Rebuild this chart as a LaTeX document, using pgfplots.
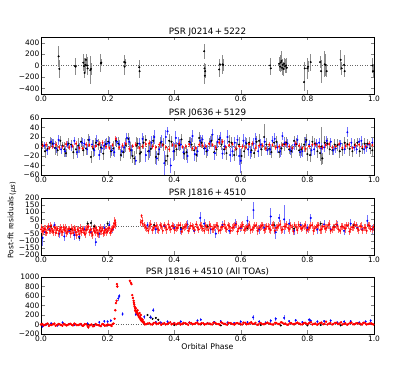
\documentclass[border=0pt]{standalone}
\usepackage{pgfplots}
\pgfplotsset{compat=1.18}
\usepackage{pgfplotstable}
\usepackage{fontspec}
\setmainfont{DejaVu Sans}

% J0214+5222 : phase, residual, error
\pgfplotstableread{
x y e
0.053 160 190
0.055 -60 160
0.102 -10 150
0.104 -20 120
0.127 50 150
0.129 -10 140
0.131 -130 90
0.133 10 120
0.135 100 100
0.138 0 150
0.140 -50 120
0.148 -80 250
0.150 -60 100
0.180 40 160
0.181 50 60
0.250 60 120
0.251 -20 150
0.253 50 60
0.295 -30 120
0.296 -100 120
0.490 250 130
0.491 -50 100
0.492 -180 150
0.493 -100 120
0.535 -70 130
0.537 20 100
0.545 20 170
0.547 10 100
0.688 0 130
0.690 -50 120
0.715 30 120
0.718 -20 100
0.720 50 140
0.722 80 170
0.724 -40 120
0.726 10 100
0.728 -60 120
0.730 30 110
0.733 -10 120
0.736 0 140
0.738 -40 100
0.790 -290 150
0.792 -50 120
0.800 -50 180
0.802 -20 100
0.810 60 150
0.838 60 100
0.841 -100 200
0.852 20 230
0.855 10 200
0.858 -100 100
0.900 100 180
0.903 -50 120
0.910 10 170
0.912 -100 100
0.995 0 140
0.997 -100 120
}\pzero

% J0636+5129
\pgfplotstableread{
x y e
0.005 3 8
0.012 -10 14
0.02 -5 10
0.027 8 12
0.035 6 9
0.042 -3 15
0.05 -8 12
0.058 12 10
0.065 2 8
0.070 -6 16
0.075 -14 8
0.083 6 12
0.09 4 10
0.097 -12 14
0.105 -6 12
0.112 2 15
0.12 10 9
0.127 -8 12
0.135 -4 14
0.142 14 12
0.15 -22 12
0.157 -5 18
0.165 8 10
0.172 4 12
0.18 -2 12
0.187 -15 14
0.195 5 10
0.202 10 12
0.21 -10 14
0.217 -4 16
0.225 12 10
0.232 6 14
0.24 -18 12
0.247 -12 12
0.255 3 15
0.262 16 12
0.27 -8 18
0.275 -20 15
0.28 -25 15
0.287 2 18
0.29 6 12
0.297 -15 20
0.30 -12 20
0.308 8 14
0.315 14 10
0.322 -10 18
0.33 -5 16
0.337 12 12
0.345 -22 14
0.352 -16 15
0.36 8 12
0.367 4 14
0.375 -30 12
0.380 -20 18
0.385 12 14
0.392 10 12
0.40 -10 18
0.407 -6 15
0.415 3 12
0.422 15 12
0.43 -15 14
0.437 -12 16
0.445 10 10
0.452 4 14
0.46 -8 15
0.467 -18 14
0.475 18 12
0.482 8 12
0.49 -4 14
0.497 -10 14
0.505 6 12
0.512 12 14
0.52 -12 16
0.527 -6 15
0.535 15 10
0.542 4 12
0.55 -6 12
0.557 -14 14
0.565 10 14
0.572 8 12
0.58 -18 12
0.587 -5 15
0.595 4 15
0.602 -20 16
0.61 -10 14
0.617 6 12
0.625 8 12
0.632 -8 15
0.64 -14 10
0.647 10 12
0.655 12 15
0.662 -6 14
0.67 20 28
0.677 4 14
0.685 -5 12
0.692 -12 12
0.70 8 10
0.707 10 12
0.715 -12 12
0.722 -4 14
0.73 5 14
0.737 8 12
0.745 -6 10
0.752 -10 14
0.76 12 10
0.767 5 12
0.775 -8 12
0.782 -6 14
0.79 4 15
0.797 14 12
0.80 -16 14
0.808 -18 15
0.815 10 12
0.822 6 12
0.83 -10 15
0.838 -14 16
0.842 0 40
0.845 -25 12
0.852 8 14
0.86 6 12
0.867 -6 12
0.875 -8 10
0.882 4 12
0.89 3 12
0.897 -10 14
0.905 -6 14
0.912 8 12
0.92 5 10
0.927 -5 14
0.935 -10 12
0.942 3 12
0.95 8 10
0.957 -10 12
0.965 -4 12
0.972 6 12
0.98 6 10
0.988 -4 12
0.995 -8 12
}\poneblack
\pgfplotstableread{
x y e
0.01 2 8
0.018 -8 10
0.03 10 8
0.038 6 10
0.045 -4 10
0.053 14 10
0.06 -6 10
0.072 -10 12
0.08 4 8
0.092 0 10
0.10 12 8
0.108 -12 12
0.115 -3 10
0.123 8 10
0.13 6 10
0.138 -6 12
0.145 14 8
0.153 4 10
0.16 -8 12
0.168 12 12
0.175 -18 10
0.183 -4 10
0.19 2 10
0.198 6 12
0.205 8 12
0.213 -8 12
0.22 -12 10
0.228 10 10
0.235 4 10
0.243 -10 12
0.25 -2 12
0.258 18 10
0.265 10 10
0.272 -8 12
0.285 -30 10
0.295 6 12
0.305 16 12
0.315 -18 14
0.325 -10 14
0.332 8 14
0.34 20 14
0.348 -25 15
0.355 -6 12
0.362 10 14
0.37 -35 25
0.375 20 14
0.38 32 8
0.39 -40 15
0.398 -10 20
0.405 18 14
0.412 6 14
0.42 4 12
0.428 -12 14
0.44 -20 14
0.448 8 12
0.455 22 12
0.462 -16 14
0.47 -10 12
0.478 12 12
0.485 15 10
0.492 -4 14
0.50 -8 12
0.508 10 12
0.515 25 12
0.522 -14 14
0.53 10 14
0.538 18 12
0.545 -15 12
0.552 0 14
0.56 20 14
0.568 -18 14
0.575 -10 12
0.582 8 12
0.59 14 10
0.595 -20 18
0.60 -30 25
0.608 12 14
0.615 8 12
0.622 -6 14
0.63 -12 14
0.638 6 12
0.645 16 12
0.652 -10 12
0.66 4 12
0.672 10 12
0.68 -8 10
0.688 -6 12
0.695 12 10
0.702 16 12
0.71 -2 12
0.718 -10 12
0.725 22 8
0.732 8 10
0.74 6 10
0.748 -8 10
0.755 -4 10
0.762 4 12
0.77 14 10
0.778 -12 12
0.785 -10 12
0.795 10 10
0.805 4 10
0.812 -8 12
0.82 -6 12
0.828 6 10
0.835 8 10
0.842 -4 12
0.85 -2 10
0.858 12 10
0.87 10 8
0.878 -8 10
0.885 -4 10
0.895 4 10
0.90 6 8
0.912 -6 10
0.92 30 10
0.932 8 10
0.94 -2 8
0.948 -6 10
0.955 10 8
0.962 12 10
0.97 -6 10
0.978 -2 10
0.985 4 8
0.995 8 10
}\poneblue
\pgfplotstableread{
x y e
0.005 2 5
0.015 4 5
0.025 -3 5
0.035 0 5
0.045 4 6
0.055 -2 5
0.065 0 5
0.075 5 6
0.085 -2 5
0.095 1 5
0.105 6 5
0.115 -3 5
0.125 -4 6
0.135 4 6
0.145 3 5
0.155 -1 5
0.165 1 5
0.175 6 5
0.185 8 6
0.195 0 6
0.205 -3 5
0.215 3 5
0.225 16 6
0.235 -2 5
0.245 2 5
0.255 6 6
0.265 -5 6
0.275 1 5
0.285 4 5
0.295 -3 5
0.305 0 5
0.315 5 6
0.325 7 6
0.335 0 5
0.345 -2 5
0.355 4 5
0.365 3 5
0.375 -2 6
0.385 -6 6
0.395 3 5
0.405 1 5
0.415 6 5
0.425 -1 5
0.435 0 6
0.445 5 6
0.455 -4 5
0.465 -3 5
0.475 4 5
0.485 2 5
0.495 0 6
0.505 6 6
0.515 3 5
0.525 -2 5
0.535 8 5
0.545 10 5
0.555 -2 6
0.565 3 5
0.575 5 5
0.585 -4 6
0.595 1 5
0.605 0 5
0.615 -2 6
0.625 5 5
0.635 6 5
0.645 -3 6
0.655 2 5
0.665 2 5
0.675 -4 6
0.685 4 5
0.695 3 5
0.705 -2 6
0.715 0 5
0.725 3 5
0.735 5 6
0.745 0 5
0.755 -3 5
0.765 6 6
0.775 2 5
0.785 -3 5
0.795 -5 6
0.805 1 5
0.815 4 5
0.825 4 6
0.835 0 5
0.845 -2 5
0.855 3 6
0.865 5 5
0.875 -2 5
0.885 0 6
0.895 5 5
0.905 -3 5
0.915 1 6
0.925 4 5
0.935 -3 5
0.945 2 6
0.955 4 5
0.965 -1 5
0.975 0 6
0.985 6 5
0.995 3 5
}\ponered

% J1816+4510 (eclipse removed)
\pgfplotstableread{
x y e
0.000 -20 25
0.0025 -5 25
0.005 -35 30
0.0075 -30 25
0.010 -15 25
0.0125 -20 30
0.015 -40 25
0.0175 -45 25
0.020 -10 20
0.0225 0 25
0.025 -25 30
0.0275 -30 25
0.030 5 25
0.0325 -15 30
0.035 -30 20
0.0375 -40 25
0.040 -5 25
0.0425 -10 25
0.045 -45 25
0.0475 -25 30
0.050 -15 20
0.0525 -50 25
0.055 -30 30
0.0575 -20 25
0.060 -8 25
0.0625 -35 30
0.065 -40 25
0.0675 -5 25
0.070 -20 20
0.0725 -30 25
0.075 -10 25
0.0775 -45 30
0.080 -35 25
0.0825 -20 25
0.085 -15 20
0.0875 -35 25
0.090 -50 30
0.0925 -15 30
0.095 -25 25
0.0975 -45 25
0.100 -10 20
0.1025 -25 25
0.105 -40 25
0.1075 -60 30
0.110 -20 25
0.1125 -30 25
0.115 -55 30
0.1175 -10 25
0.120 -30 25
0.1225 -40 30
0.125 -15 20
0.1275 -25 25
0.130 -45 25
0.1325 -55 25
0.135 -25 25
0.1375 -20 30
0.140 -5 30
0.1425 0 25
0.145 -40 25
0.1475 -30 25
0.150 -20 25
0.1525 -45 30
0.155 -60 30
0.1575 -15 25
0.160 -30 25
0.1625 -40 25
0.165 -10 20
0.1675 -25 30
0.170 -45 30
0.1725 -55 25
0.175 -25 25
0.1775 -10 25
0.180 -35 25
0.1825 -30 30
0.185 -15 20
0.1875 -50 25
0.190 -40 30
0.1925 -25 25
0.195 -20 25
0.1975 -40 30
0.200 -30 25
0.2025 -15 25
0.205 -10 20
0.2075 -45 25
0.210 -35 25
0.2125 -25 30
0.215 -15 25
0.2175 -5 25
0.218 0 30
0.220 20 30
0.222 40 30
0.2235 25 30
0.224 10 25
0.300 30 25
0.302 75 15
0.304 40 25
0.305 20 25
0.310 10 25
0.314 -5 25
0.318 -15 25
0.322 -30 25
0.326 5 30
0.330 15 30
0.334 -25 25
0.338 -10 25
0.342 0 25
0.346 5 25
0.350 -15 30
0.354 -25 30
0.358 10 25
0.362 0 25
0.366 -30 25
0.370 10 25
0.374 -5 25
0.378 -20 30
0.382 15 30
0.386 -5 25
0.390 -20 25
0.394 5 25
0.398 0 25
0.402 -25 30
0.406 -10 30
0.410 -10 25
0.414 8 25
0.418 10 25
0.422 -35 25
0.426 -15 30
0.430 -5 25
0.434 0 25
0.438 12 30
0.442 -30 25
0.446 -15 25
0.450 5 25
0.454 3 25
0.458 -10 30
0.462 -25 30
0.466 15 25
0.470 -8 25
0.474 -20 25
0.478 10 25
0.482 0 30
0.486 -15 25
0.490 -30 25
0.494 5 30
0.498 -5 25
0.502 -25 25
0.506 10 30
0.510 0 25
0.514 -20 25
0.518 -15 30
0.522 -5 25
0.526 10 25
0.530 5 30
0.534 -30 25
0.538 -25 25
0.542 -5 25
0.546 0 25
0.550 15 30
0.554 -10 30
0.558 -20 25
0.562 10 25
0.566 0 25
0.570 -30 25
0.574 -10 30
0.578 -5 30
0.582 8 25
0.586 15 25
0.590 -35 25
0.594 -15 25
0.598 -5 25
0.602 0 30
0.606 12 30
0.610 -25 25
0.614 -15 25
0.618 -5 25
0.622 3 25
0.626 10 30
0.630 -25 30
0.634 -20 25
0.638 -8 25
0.642 5 25
0.646 10 25
0.650 -30 30
0.654 -15 25
0.658 -5 25
0.662 5 30
0.666 10 25
0.670 -25 25
0.674 -15 30
0.678 0 25
0.682 0 25
0.686 -15 30
0.690 -25 25
0.694 10 25
0.698 10 30
0.702 -30 25
0.706 -10 25
0.710 -5 25
0.714 5 25
0.718 15 30
0.722 -25 30
0.726 -20 25
0.730 0 25
0.734 0 25
0.738 15 25
0.742 -10 30
0.746 -20 30
0.750 8 25
0.754 -5 25
0.758 -35 25
0.762 10 25
0.766 -5 25
0.770 -25 30
0.774 12 30
0.778 0 25
0.782 -15 25
0.786 -10 25
0.790 3 25
0.794 10 30
0.798 -25 30
0.802 -20 25
0.806 -8 25
0.810 5 25
0.814 10 25
0.818 -30 30
0.822 -15 25
0.826 -5 25
0.830 5 30
0.834 10 25
0.838 -25 25
0.842 -20 30
0.846 0 25
0.850 0 25
0.854 -15 30
0.858 -10 25
0.862 10 25
0.866 15 30
0.870 -30 25
0.874 -20 25
0.878 -5 25
0.882 -5 25
0.886 15 30
0.890 5 30
0.894 -20 25
0.898 -30 25
0.902 0 25
0.906 0 25
0.910 -10 30
0.914 -15 30
0.918 8 25
0.922 10 25
0.926 -35 25
0.930 -20 25
0.934 -5 25
0.938 -5 30
0.942 12 30
0.946 10 25
0.950 -15 25
0.954 -25 25
0.958 3 25
0.962 0 30
0.966 -25 30
0.970 -10 25
0.974 -8 25
0.978 -30 25
0.982 10 25
0.986 5 30
0.990 -15 25
0.994 -20 25
0.998 -5 25
}\ptwored
\pgfplotstableread{
x y e
0.005 -80 60
0.012 -40 30
0.025 -20 30
0.040 10 25
0.055 -50 30
0.070 -70 30
0.085 -30 25
0.100 -60 35
0.115 -70 30
0.130 -20 25
0.150 -40 30
0.165 -110 30
0.175 -50 30
0.190 -10 25
0.205 10 30
0.215 -20 25
0.320 10 25
0.345 -20 30
0.370 5 25
0.400 -10 30
0.420 -20 30
0.440 15 30
0.460 -30 25
0.478 60 40
0.490 20 30
0.510 -20 30
0.525 -50 30
0.545 10 30
0.565 -30 25
0.585 20 30
0.600 -10 30
0.620 40 35
0.638 115 60
0.655 -20 30
0.670 -10 30
0.690 70 60
0.705 -40 50
0.715 60 30
0.730 50 100
0.745 20 30
0.760 -30 30
0.780 10 25
0.800 -10 30
0.810 60 30
0.830 -20 30
0.850 15 30
0.870 -20 25
0.890 10 30
0.910 -30 30
0.930 20 30
0.950 -10 25
0.965 -20 30
0.980 40 40
0.995 -20 30
}\ptwoblue
\pgfplotstableread{
x y e
0.030 0 20
0.090 -20 20
0.115 -80 20
0.140 20 20
0.150 25 20
0.160 0 20
0.200 20 20
0.340 10 20
0.420 -10 20
0.500 0 20
0.620 -10 20
0.700 10 20
0.760 -15 20
0.840 20 20
0.880 0 20
0.940 10 20
}\ptwoblack

% J1816+4510 (all TOAs)
\pgfplotstableread{
x y e
0.000 0 20
0.004 10 20
0.008 -20 25
0.012 -10 20
0.016 10 20
0.020 20 20
0.024 -30 20
0.028 -5 20
0.032 -10 25
0.036 5 20
0.040 20 20
0.044 -25 20
0.048 -15 20
0.052 10 20
0.056 5 25
0.060 -10 20
0.064 -25 20
0.068 15 20
0.072 0 20
0.076 -20 20
0.080 -10 25
0.084 5 20
0.088 15 20
0.092 -5 20
0.096 -20 20
0.100 20 20
0.104 5 25
0.108 -15 20
0.112 -10 20
0.116 0 20
0.120 10 20
0.124 -25 20
0.128 -20 25
0.132 10 20
0.136 5 20
0.140 -30 20
0.142 -60 25
0.146 -20 20
0.148 -10 20
0.152 0 20
0.156 -40 20
0.160 -30 20
0.164 10 25
0.168 -5 20
0.172 -15 20
0.176 -20 20
0.180 -35 20
0.184 10 20
0.188 0 25
0.192 -25 20
0.196 -20 20
0.200 0 20
0.204 -5 20
0.208 -15 20
0.212 -30 25
0.215 10 20
0.218 20 20
0.221 120 20
0.223 300 20
0.225 450 25
0.227 500 25
0.228 850 25
0.229 800 25
0.267 920 25
0.270 880 25
0.272 850 20
0.274 620 25
0.276 560 20
0.278 500 25
0.279 460 20
0.280 420 25
0.281 380 20
0.282 350 20
0.283 300 25
0.284 280 20
0.285 340 25
0.286 260 20
0.287 280 20
0.288 230 20
0.289 250 25
0.290 300 20
0.291 220 20
0.292 200 20
0.293 180 25
0.294 160 20
0.296 240 25
0.297 130 20
0.298 150 20
0.299 100 20
0.300 200 20
0.301 80 20
0.302 120 20
0.304 60 20
0.305 100 20
0.307 40 20
0.308 60 20
0.310 30 20
0.312 0 20
0.316 10 20
0.320 20 20
0.325 30 20
0.329 5 20
0.334 0 20
0.338 30 20
0.343 40 20
0.347 10 20
0.352 20 20
0.356 35 20
0.361 -5 20
0.365 15 20
0.370 30 20
0.374 0 20
0.379 10 20
0.383 25 20
0.388 45 20
0.392 5 20
0.397 15 20
0.401 30 20
0.406 0 20
0.410 20 20
0.415 35 20
0.419 0 20
0.424 10 20
0.428 35 20
0.433 25 20
0.437 15 20
0.442 -5 20
0.446 40 20
0.451 30 20
0.455 5 20
0.460 15 20
0.464 25 20
0.469 40 20
0.473 10 20
0.478 5 20
0.482 30 20
0.487 25 20
0.491 0 20
0.496 10 20
0.500 25 20
0.505 20 20
0.509 10 20
0.514 0 20
0.518 40 20
0.523 35 20
0.527 15 20
0.532 10 20
0.536 0 20
0.541 45 20
0.545 30 20
0.550 15 20
0.554 10 20
0.559 -5 20
0.563 35 20
0.568 30 20
0.572 20 20
0.577 5 20
0.581 0 20
0.586 25 20
0.590 30 20
0.595 20 20
0.599 10 20
0.604 0 20
0.608 40 20
0.613 35 20
0.617 5 20
0.622 10 20
0.626 25 20
0.631 45 20
0.635 15 20
0.640 15 20
0.644 35 20
0.649 -5 20
0.653 0 20
0.658 30 20
0.662 20 20
0.667 5 20
0.671 10 20
0.676 25 20
0.680 40 20
0.685 20 20
0.689 15 20
0.694 0 20
0.698 0 20
0.703 35 20
0.707 30 20
0.712 10 20
0.716 10 20
0.721 45 20
0.725 35 20
0.730 15 20
0.734 20 20
0.739 -5 20
0.743 0 20
0.748 30 20
0.752 25 20
0.757 5 20
0.761 10 20
0.766 25 20
0.770 40 20
0.775 20 20
0.779 5 20
0.784 0 20
0.788 25 20
0.793 35 20
0.797 15 20
0.802 10 20
0.806 35 20
0.811 45 20
0.815 0 20
0.820 15 20
0.824 20 20
0.829 -5 20
0.833 10 20
0.838 30 20
0.842 40 20
0.847 5 20
0.851 15 20
0.856 60 20
0.860 0 20
0.865 20 20
0.869 30 20
0.874 0 20
0.878 10 20
0.883 35 20
0.887 35 20
0.892 10 20
0.896 20 20
0.901 45 20
0.905 0 20
0.910 15 20
0.914 25 20
0.919 -5 20
0.923 10 20
0.928 30 20
0.932 40 20
0.937 5 20
0.941 5 20
0.946 25 20
0.950 25 20
0.955 20 20
0.959 15 20
0.964 0 20
0.968 35 20
0.973 35 20
0.977 0 20
0.982 10 20
0.986 20 20
0.991 25 20
0.994 10 20
0.998 0 20
}\pthreered
\pgfplotstableread{
x y e
0.005 -40 30
0.015 0 25
0.030 20 30
0.050 -20 30
0.065 40 30
0.085 10 25
0.100 -10 30
0.120 0 30
0.140 20 25
0.160 -20 30
0.175 50 30
0.190 70 30
0.200 60 30
0.210 80 30
0.232 550 50
0.235 600 50
0.245 220 40
0.285 210 40
0.292 200 30
0.310 160 40
0.330 150 40
0.337 300 40
0.345 50 30
0.360 40 30
0.380 60 30
0.400 30 30
0.420 60 30
0.445 40 30
0.470 80 30
0.480 100 30
0.500 30 30
0.520 50 30
0.540 70 30
0.560 40 30
0.580 30 30
0.600 60 30
0.620 50 30
0.637 150 50
0.655 60 30
0.675 40 30
0.690 80 40
0.705 120 40
0.730 140 50
0.745 70 30
0.765 90 30
0.785 50 30
0.805 100 40
0.810 80 30
0.830 60 30
0.850 70 30
0.870 80 30
0.890 40 30
0.910 60 30
0.930 70 30
0.955 40 30
0.975 60 30
0.990 80 40
}\pthreeblue
\pgfplotstableread{
x y e
0.140 0 20
0.160 -10 20
0.200 -20 20
0.320 200 20
0.328 150 20
0.335 120 20
0.345 140 20
0.352 100 20
0.400 -10 20
0.480 0 20
0.540 -20 20
0.600 0 20
0.660 -10 20
0.720 -20 20
0.760 0 20
0.800 -20 20
0.840 -10 20
0.900 -20 20
0.960 0 20
}\pthreeblack

\pgfplotsset{
  panel/.style={
    at={#1}, anchor=south west,
    scale only axis, width=333bp, height=57bp,
    xmin=0, xmax=1,
    xtick={0,0.2,0.4,0.6,0.8,1}, xticklabels={0.0,0.2,0.4,0.6,0.8,1.0},
    tick align=inside, xtick pos=both, ytick pos=both,
    major tick length=3.5bp,
    tick label style={font=\fontsize{7.5}{8}\selectfont, inner sep=1.5bp},
    every axis title shift=0pt,
    title style={font=\fontsize{8.8}{10}\selectfont, inner sep=1bp,
      at={(0.5,1)}, anchor=south},
    axis line style={line width=0.5pt},
  },
  toas/.style 2 args={only marks, mark=*, mark size=0.8bp, color=#1,
    error bars/.cd, y dir=both, y explicit, error mark=none,
    error bar style={#2}, /pgfplots/.cd},
  zero/.style={dotted, black!60, line width=0.5pt},
}

\begin{document}
\begin{tikzpicture}
\path[use as bounding box] (0,0) rectangle (415bp,373bp);

\begin{axis}[panel={(41bp,279bp)}, title={PSR J0214\,+\,5222},
  ymin=-500, ymax=500, ytick={-400,-200,0,200,400},
  yticklabels={−400,−200,0,200,400}]
\addplot[zero] coordinates {(0,0) (1,0)};
\addplot[toas={black}{black!45, line width=0.9pt}]
  table[x=x, y=y, y error=e] {\pzero};
\end{axis}

\begin{axis}[panel={(41bp,198bp)}, title={PSR J0636\,+\,5129},
  ymin=-60, ymax=60, ytick={-60,-40,-20,0,20,40,60},
  yticklabels={−60,−40,−20,0,20,40,60}]
\addplot[zero] coordinates {(0,0) (1,0)};
\addplot[toas={black}{black!45, line width=0.9pt}]
  table[x=x, y=y, y error=e] {\poneblack};
\addplot[toas={blue}{blue!55, line width=0.9pt}]
  table[x=x, y=y, y error=e] {\poneblue};
\addplot[toas={red}{red!60, line width=0.9pt}]
  table[x=x, y=y, y error=e] {\ponered};
\end{axis}

\begin{axis}[panel={(41bp,118bp)}, title={PSR J1816\,+\,4510},
  ymin=-200, ymax=200, ytick={-200,-150,...,200},
  yticklabels={−200,−150,−100,−50,0,50,100,150,200}]
\addplot[zero] coordinates {(0,0) (1,0)};
\addplot[toas={black}{black!45, line width=0.9pt}]
  table[x=x, y=y, y error=e] {\ptwoblack};
\addplot[toas={blue}{blue!55, line width=0.9pt}]
  table[x=x, y=y, y error=e] {\ptwoblue};
\addplot[toas={red}{red!60, line width=1pt}]
  table[x=x, y=y, y error=e] {\ptwored};
\end{axis}

\begin{axis}[panel={(41bp,39bp)}, title={PSR J1816\,+\,4510 (All TOAs)},
  ymin=-200, ymax=1000, ytick={-200,0,200,400,600,800,1000},
  yticklabels={−200,0,200,400,600,800,1000},
  xlabel={Orbital Phase}, xlabel style={font=\fontsize{7.8}{9}\selectfont, inner sep=1bp}]
\addplot[zero] coordinates {(0,0) (1,0)};
\addplot[toas={black}{black!45, line width=0.9pt}]
  table[x=x, y=y, y error=e] {\pthreeblack};
\addplot[toas={blue}{blue!55, line width=0.9pt}]
  table[x=x, y=y, y error=e] {\pthreeblue};
\addplot[toas={red}{red!60, line width=1pt}, mark size=1bp]
  table[x=x, y=y, y error=e] {\pthreered};
\end{axis}

\node[rotate=90, font=\fontsize{7.5}{9}\selectfont] at (12bp,153bp)
  {Post-fit residuals\,\raisebox{-0.4ex}{\fontsize{7}{8}\selectfont(\textit{μs})}};
\end{tikzpicture}
\end{document}
